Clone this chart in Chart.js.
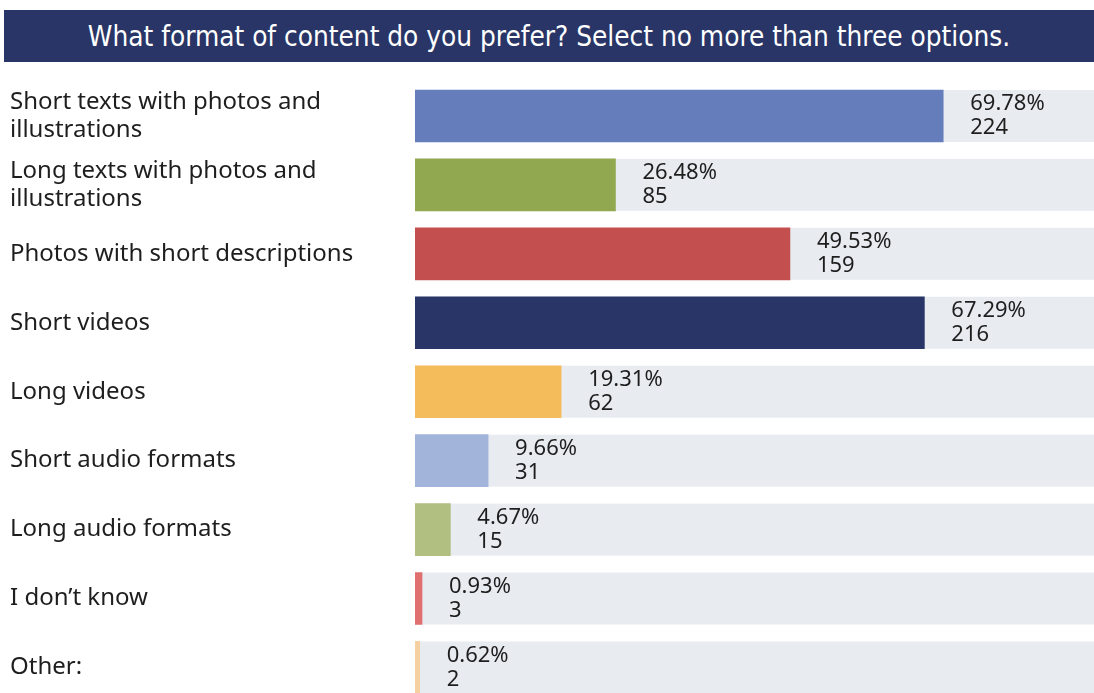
<!DOCTYPE html>
<html><head><meta charset="utf-8">
<script src="https://cdn.jsdelivr.net/npm/chart.js@4.4.0/dist/chart.umd.min.js"></script>
<style>
html,body{margin:0;padding:0;background:#fff;overflow:hidden;width:1094px;height:693px;}
#banner{position:absolute;left:4px;top:10px;width:1090px;height:52px;background:#283566;color:#fff;
font-family:"DejaVu Sans Condensed","Noto Sans",sans-serif;font-weight:normal;font-size:27.7px;line-height:54px;text-align:center;z-index:2;}
#c{position:absolute;left:0;top:0;}
</style></head>
<body>
<div id="banner">What format of content do you prefer? Select no more than three options.</div>
<canvas id="c" width="1094" height="730" style="width:1094px;height:730px"></canvas>
<script>
const categories = [
  ["Short texts with photos and","illustrations"],
  ["Long texts with photos and","illustrations"],
  "Photos with short descriptions",
  "Short videos",
  "Long videos",
  "Short audio formats",
  "Long audio formats",
  "I don\u2019t know",
  "Other:"
];
const percents = [69.78, 26.48, 49.53, 67.29, 19.31, 9.66, 4.67, 0.93, 0.62];
const counts = [224, 85, 159, 216, 62, 31, 15, 3, 2];
const barColors = ["#657dbb","#91a850","#c44f4f","#283566","#f5bc5b","#a3b4db","#b1bf80","#e07070","#f5d0a0"];

const trackPlugin = {
  id:'track',
  beforeDatasetsDraw(chart){
    const ctx = chart.ctx, a = chart.chartArea;
    const meta = chart.getDatasetMeta(0);
    ctx.save();
    ctx.fillStyle = '#e8ecf1';
    meta.data.forEach(el=>{
      const h = el.height;
      ctx.fillRect(a.left, el.y - h/2, a.right - a.left, h);
    });
    ctx.restore();
  }
};
const labelPlugin = {
  id:'vlabels',
  afterDatasetsDraw(chart){
    const ctx = chart.ctx;
    const meta = chart.getDatasetMeta(0);
    ctx.save();
    ctx.fillStyle = '#1e1e1e';
    ctx.font = '22px "Noto Sans", sans-serif';
    ctx.textAlign = 'left';
    ctx.textBaseline = 'middle';
    meta.data.forEach((el,i)=>{
      const x = el.x + 27;
      ctx.fillText(percents[i].toFixed(2) + '%', x, el.y - 12);
      ctx.fillText(String(counts[i]), x, el.y + 12);
    });
    ctx.restore();
  }
};

new Chart(document.getElementById('c'), {
  type:'bar',
  data:{
    labels: categories,
    datasets:[{
      data: percents,
      backgroundColor: barColors,
      borderWidth:0,
      barThickness:52
    }]
  },
  plugins:[trackPlugin,labelPlugin],
  options:{
    indexAxis:'y',
    responsive:false,
    maintainAspectRatio:false,
    animation:false,
    devicePixelRatio:1,
    layout:{padding:{left:10,right:0,top:81.5,bottom:8.5}},
    plugins:{legend:{display:false},tooltip:{enabled:false},title:{display:false}},
    scales:{
      x:{display:false,min:0,max:89.7},
      y:{
        grid:{display:false},
        border:{display:false},
        afterFit(s){ s.width = 405; },
        ticks:{
          crossAlign:'far',
          color:'#1e1e1e',
          padding:0,
          font:{family:'"Noto Sans", sans-serif',size:24,lineHeight:1.17}
        }
      }
    }
  }
});
</script>
</body></html>
